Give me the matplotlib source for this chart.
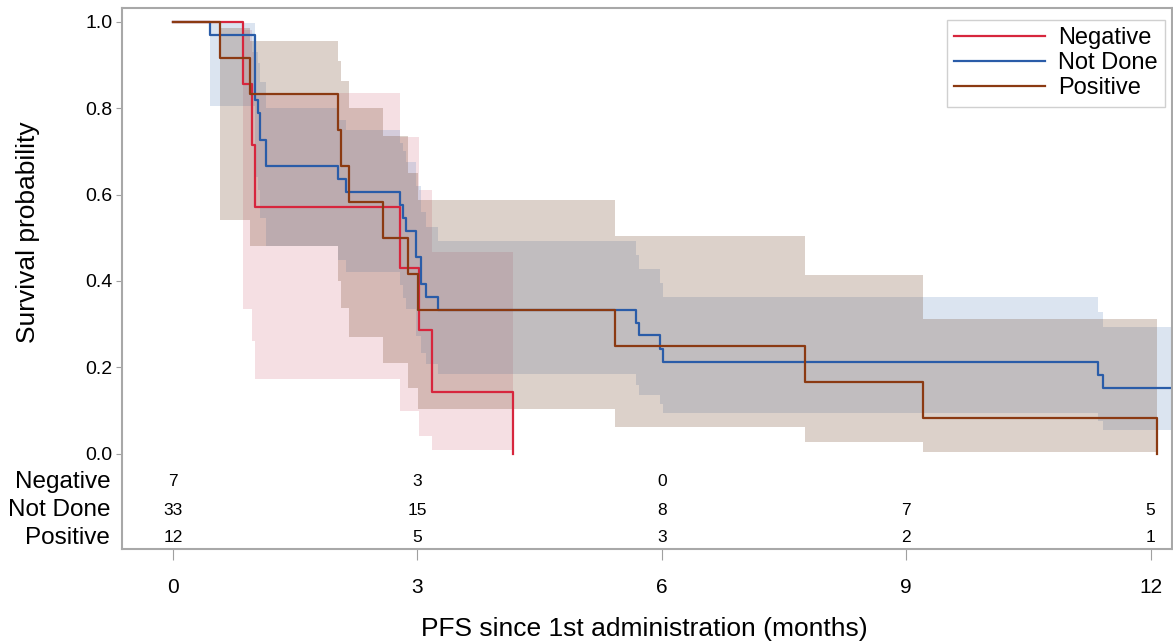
import numpy as np
import matplotlib
matplotlib.use("Agg")
import matplotlib.pyplot as plt

plt.rcParams["font.family"] = ["Liberation Sans", "DejaVu Sans"]

# Kaplan-Meier step data (time in months, survival prob.)
neg_time = [0, 0.86, 0.97, 1.01, 2.79, 3.02, 3.18, 4.17]
neg_surv = [1.0, 0.857, 0.714, 0.571, 0.429, 0.286, 0.143, 0.0]
neg_lower = [1.0, 0.336, 0.26, 0.173, 0.10, 0.042, 0.009]
neg_upper = [1.0, 0.98, 0.93, 0.836, 0.734, 0.611, 0.466]

nd_time = [0, 0.45, 1.01, 1.04, 1.07, 1.14, 2.02, 2.12, 2.79, 2.82, 2.86,
           2.98, 3.05, 3.11, 3.25, 5.68, 5.72, 5.98, 6.02, 11.35, 11.42]
nd_surv = [1.0, 0.970, 0.818, 0.788, 0.727, 0.667, 0.636, 0.606, 0.576, 0.545, 0.515,
           0.455, 0.394, 0.364, 0.333, 0.303, 0.274, 0.243, 0.213, 0.183, 0.152]
nd_lower = [1.0, 0.804, 0.64, 0.61, 0.545, 0.48, 0.449, 0.42, 0.39, 0.36, 0.335,
            0.272, 0.233, 0.208, 0.184, 0.16, 0.137, 0.116, 0.094, 0.075, 0.056]
nd_upper = [1.0, 0.996, 0.93, 0.905, 0.86, 0.80, 0.773, 0.75, 0.72, 0.70, 0.675,
            0.62, 0.56, 0.525, 0.493, 0.46, 0.428, 0.395, 0.363, 0.329, 0.294]
nd_end = 12.3

pos_time = [0, 0.58, 0.94, 2.03, 2.06, 2.16, 2.58, 2.88, 3.01, 5.42, 7.76, 9.21, 12.08]
pos_surv = [1.0, 0.917, 0.833, 0.75, 0.667, 0.583, 0.5, 0.417, 0.333, 0.25, 0.167, 0.083, 0.0]
pos_lower = [1.0, 0.54, 0.48, 0.40, 0.337, 0.27, 0.21, 0.153, 0.104, 0.061, 0.027, 0.005]
pos_upper = [1.0, 0.985, 0.955, 0.91, 0.862, 0.80, 0.735, 0.65, 0.588, 0.505, 0.413, 0.312]

# Number at risk table
risk_times = [0, 3, 6, 9, 12]
risk_labels = ["Negative", "Not Done", "Positive"]
risk_negative = [7, 3, 0]
risk_not_done = [33, 15, 8, 7, 5]
risk_positive = [12, 5, 3, 2, 1]

line_colors = ["#d7263d", "#2a5ca8", "#8b3a12"]
band_colors = ["#db8393", "#7397c7", "#774b2f"]

fig = plt.figure(figsize=(11.73, 6.42), dpi=100)
ax = fig.add_axes([0.104, 0.145, 0.895, 0.8427])

groups = [
    ("Negative", neg_time, neg_surv, neg_lower, neg_upper, None),
    ("Not Done", nd_time, nd_surv, nd_lower, nd_upper, nd_end),
    ("Positive", pos_time, pos_surv, pos_lower, pos_upper, None),
]

# confidence bands
for i, (name, t, s, lo, up, end) in enumerate(groups):
    bt = t if end is None else t + [end]
    blo = lo + [lo[-1]]
    bup = up + [up[-1]]
    ax.fill_between(bt, blo, bup, step="post", color=band_colors[i],
                    alpha=0.25, linewidth=0)

# survival curves
for i, (name, t, s, lo, up, end) in enumerate(groups):
    tt = list(t)
    ss = list(s)
    if end is not None:
        tt = tt + [end]
        ss = ss + [ss[-1]]
    ax.step(tt, ss, where="post", color=line_colors[i], lw=1.6, label=name)

# at-risk numbers
risk_rows = [risk_negative, risk_not_done, risk_positive]
row_y = [-0.065, -0.13, -0.194]
for label, counts, y in zip(risk_labels, risk_rows, row_y):
    ax.text(-0.77, y, label, ha="right", va="center", fontsize=17.5, clip_on=False)
    for xt, n in zip(risk_times, counts):
        ax.text(xt, y, str(n), ha="center", va="center", fontsize=12.5,
                family=["Liberation Sans Narrow", "Liberation Sans"])

ax.set_xlim(-0.626, 12.26)
ax.set_ylim(-0.22, 1.032)
ax.set_xticks(risk_times)
ax.set_yticks([0.0, 0.2, 0.4, 0.6, 0.8, 1.0])
ax.set_yticklabels(["0.0", "0.2", "0.4", "0.6", "0.8", "1.0"])
ax.tick_params(axis="x", length=8, pad=13, labelsize=15, color="#a0a0a0")
ax.tick_params(axis="y", length=4, pad=3, labelsize=14, color="#a0a0a0")

for sp in ax.spines.values():
    sp.set_color("#a8a8a8")
    sp.set_linewidth(1.5)

ax.set_xlabel("PFS since 1st administration (months)", fontsize=19)
ax.xaxis.set_label_coords(0.498, -0.126)
ax.set_ylabel("Survival probability", fontsize=19)
ax.yaxis.set_label_coords(-0.078, 0.585)

leg = ax.legend(loc="upper right", bbox_to_anchor=(0.9933, 0.978), fontsize=17,
                handlelength=3.85, fancybox=False, framealpha=1, edgecolor="#d0d0d0",
                borderaxespad=0, labelspacing=0.14, handletextpad=0.55,
                borderpad=0.3)

fig.savefig("out.png", dpi=100)
